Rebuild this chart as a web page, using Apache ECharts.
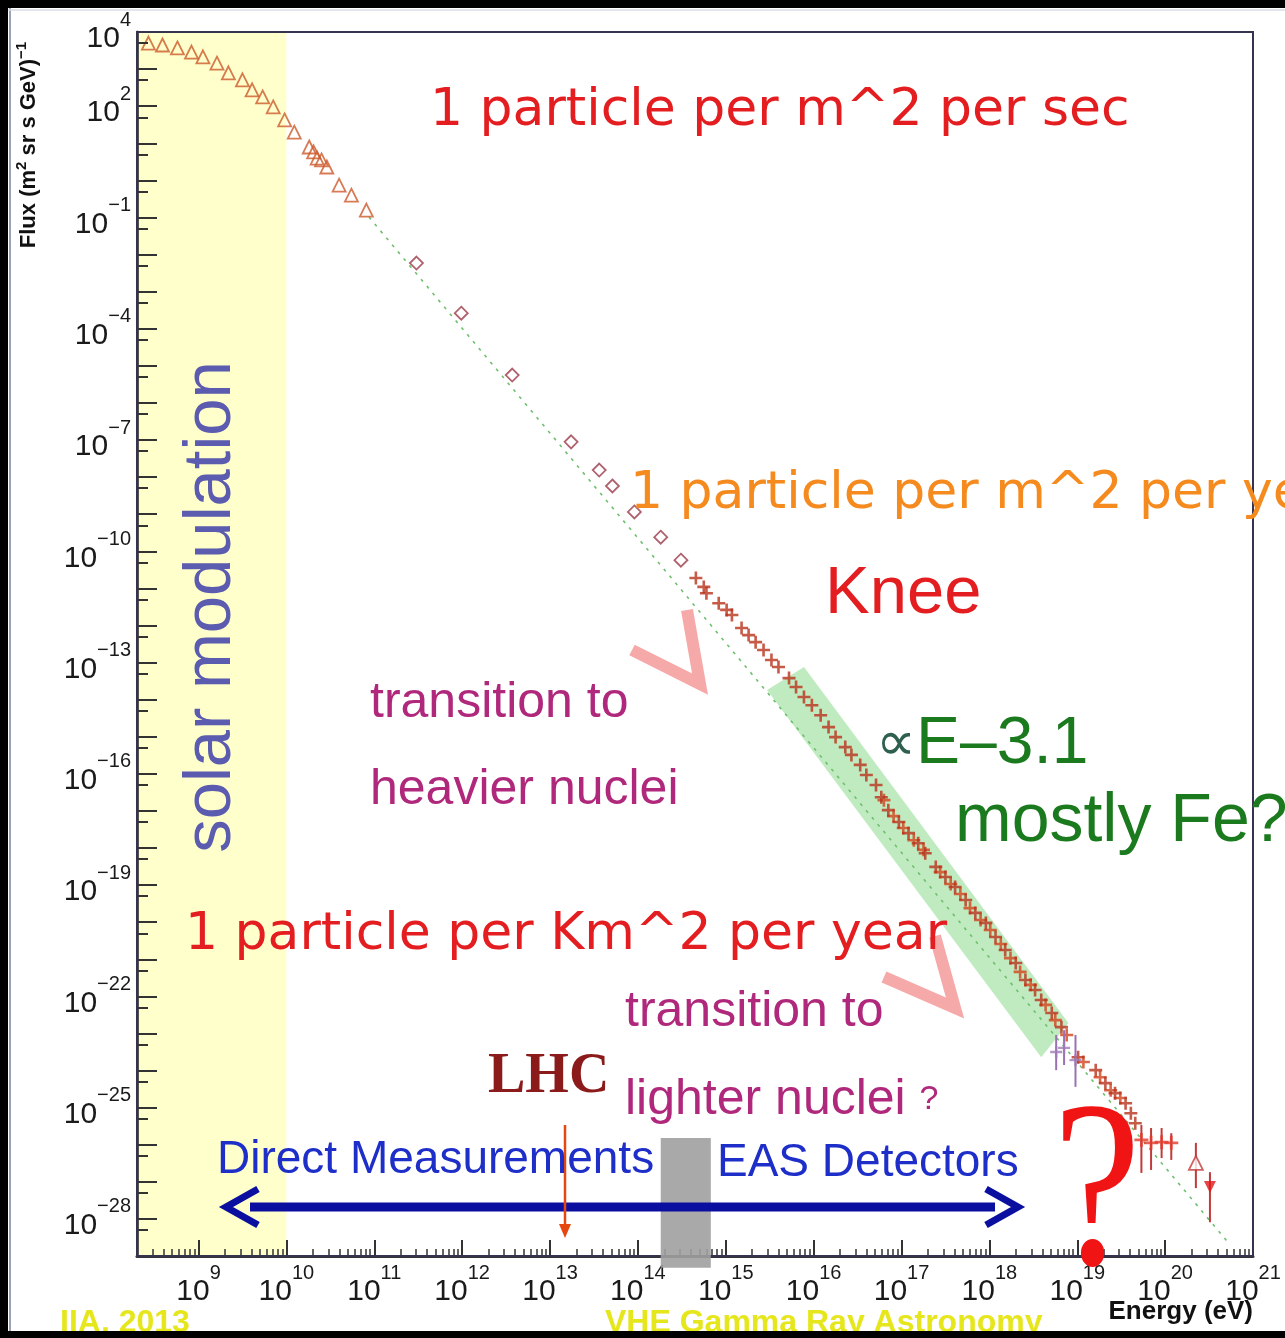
<!DOCTYPE html>
<html><head><meta charset="utf-8">
<script src="https://cdn.jsdelivr.net/npm/echarts@6/dist/echarts.min.js"></script>
<style>html,body{margin:0;padding:0;background:#fff;overflow:hidden}#c{width:1285px;height:1338px}</style>
</head><body><div id="c"></div>
<script>
// ---- axis ticks / labels (log10 exponents) ----
const xLabelExps = [9,10,11,12,13,14,15,16,17,18,19,20,21];
const yLabelExps = [4,2,-1,-4,-7,-10,-13,-16,-19,-22,-25,-28];

// ---- data: [log10(E/eV), log10(flux)] ----
const lowEnergyTriangles = [[8.43,3.70],[8.59,3.65],[8.76,3.57],[8.92,3.46],[9.05,3.33],[9.21,3.16],[9.34,2.90],[9.50,2.71],[9.61,2.44],[9.73,2.25],[9.85,1.98],[9.98,1.63],[10.09,1.30],[10.26,0.90],[10.31,0.77],[10.35,0.60],[10.40,0.55],[10.46,0.36],[10.60,-0.13],[10.74,-0.40],[10.91,-0.80]];
const balloonDiamonds = [[11.48,-2.23],[11.99,-3.58],[12.57,-5.25],[13.24,-7.05],[13.56,-7.81],[13.71,-8.24],[13.96,-8.94],[14.26,-9.62],[14.49,-10.24]];
const easCrosses = [[14.66,-10.72],[14.75,-10.96],[14.78,-11.13],[14.92,-11.40],[15.01,-11.58],[15.07,-11.72],[15.18,-12.07],[15.26,-12.26],[15.34,-12.45],[15.43,-12.66],[15.52,-12.93],[15.60,-13.12],[15.72,-13.42],[15.80,-13.66],[15.89,-13.93],[15.98,-14.15],[16.08,-14.42],[16.17,-14.74],[16.25,-15.01],[16.36,-15.28],[16.43,-15.49],[16.53,-15.76],[16.60,-16.03],[16.71,-16.30],[16.77,-16.63],[16.85,-16.98],[16.97,-17.30],[17.08,-17.60],[17.19,-17.87],[17.27,-18.14],[17.39,-18.51],[17.50,-18.78],[17.61,-19.05],[17.73,-19.40],[17.84,-19.75],[17.96,-20.02],[18.07,-20.40],[18.18,-20.75],[18.30,-21.10],[18.41,-21.56],[18.52,-21.83],[18.59,-22.10],[18.71,-22.45],[18.82,-22.83],[19.01,-23.64],[19.21,-23.99],[19.32,-24.34],[19.43,-24.61],[19.55,-24.88],[19.61,-25.15],[19.66,-25.42]];
const easCrossesB = [[16.80,-16.71],[16.91,-17.14],[17.02,-17.46],[17.14,-17.79],[17.25,-18.05],[17.44,-18.65],[17.56,-18.97],[17.67,-19.24],[17.78,-19.62],[17.90,-19.94],[18.01,-20.21],[18.13,-20.59],[18.24,-20.97],[18.35,-21.34],[18.47,-21.69],[18.64,-22.23],[18.75,-22.64],[18.88,-23.04],[19.07,-23.77],[19.26,-24.18],[19.38,-24.53],[19.49,-24.74]];
// [logE, logFlux, lower, upper]
const purplePoints = [[18.76,-23.50,-23.99,-23.04],[18.85,-23.39,-23.85,-22.91],[18.98,-23.72,-24.44,-23.04]];
const uhecrCrosses = [[19.73,-25.87,-26.76,-25.47],[19.84,-25.95,-26.68,-25.55],[19.96,-25.93,-26.36,-25.55],[20.07,-25.95,-26.41,-25.69]];
const uhecrOpenTriangle = [[20.35,-26.49,-27.17,-25.95]];
const uhecrFilledTriangle = [[20.51,-27.14,-28.09,-26.74]];
const powerLawFit = [[10.94,-0.99],[20.74,-28.70]];
// shaded regions (data coordinates)
const solarModulationBand = [8.3, 10.0];
const kneeBand = [[15.47,-13.74],[15.89,-13.12],[18.90,-22.72],[18.59,-23.64]];
const transitionBox = [14.26, 14.83, -25.82, -29.32];

const FS = 'Liberation Sans, Arial, DejaVu Sans, sans-serif';
const supFmt = v => { const n = Math.round(v); return '{b|10}{s|' + (n < 0 ? '\u2212' + (-n) : n) + '}'; };
const labelRich = {
  b: {fontSize: 30, fontFamily: FS, color: '#1a1a1a', lineHeight: 44, verticalAlign: 'bottom'},
  s: {fontSize: 20, fontFamily: FS, color: '#1a1a1a', lineHeight: 20, verticalAlign: 'top'}
};
const xMinor = [];
for (let n = 8; n <= 20; n++) for (let k = 2; k <= 9; k++) { const v = n + Math.log10(k); if (v > 8.3 && v < 21) xMinor.push(v); }
const yMajor = []; const yMinor = [];
for (let n = -29; n <= 4; n++) { yMajor.push(n); if (n - 0.3 > -29) yMinor.push(n - 0.3); }

const axisCommon = {type: 'value', splitLine: {show: false}, z: 6};
const chart = echarts.init(document.getElementById('c'), null, {renderer: 'canvas'});

const polyItem = (pts, fill) => (params, api) => ({
  type: 'polygon', shape: {points: pts.map(p => api.coord(p))}, style: {fill: fill}
});
const errItem = color => (params, api) => {
  const a = api.coord([api.value(0), api.value(2)]);
  const b = api.coord([api.value(0), api.value(3)]);
  return {type: 'line', shape: {x1: a[0], y1: a[1], x2: b[0], y2: b[1]}, style: {stroke: color, lineWidth: 2}};
};
const plusPath = 'path://M0,4H10V6H0Z M4,0H6V10H4Z';

const option = {
  animation: false,
  backgroundColor: '#ffffff',
  grid: {left: 137, right: 32, top: 32, bottom: 82, show: true, borderColor: '#34344e', borderWidth: 2, backgroundColor: 'rgba(0,0,0,0)', z: 7},
  xAxis: [
    Object.assign({}, axisCommon, {min: 8.3, max: 21, position: 'bottom',
      axisLine: {show: true, onZero: false, lineStyle: {color: '#333', width: 3}},
      axisTick: {show: true, inside: true, length: 16, customValues: xLabelExps, lineStyle: {color: '#333', width: 2}},
      axisLabel: {customValues: xLabelExps, formatter: supFmt, rich: labelRich, margin: 7}}),
    Object.assign({}, axisCommon, {min: 8.3, max: 21, position: 'bottom',
      axisLine: {show: false, onZero: false},
      axisTick: {show: true, inside: true, length: 7, customValues: xMinor, lineStyle: {color: '#333', width: 1.5}},
      axisLabel: {show: false}})
  ],
  yAxis: [
    Object.assign({}, axisCommon, {min: -29, max: 4, position: 'left',
      axisLine: {show: true, onZero: false, lineStyle: {color: '#555', width: 3}},
      axisTick: {show: true, inside: true, length: 20, customValues: yMajor, lineStyle: {color: '#333', width: 2}},
      axisLabel: {customValues: yLabelExps, formatter: supFmt, rich: labelRich, margin: 6}}),
    Object.assign({}, axisCommon, {min: -29, max: 4, position: 'left',
      axisLine: {show: false, onZero: false},
      axisTick: {show: true, inside: true, length: 11, customValues: yMinor, lineStyle: {color: '#333', width: 2}},
      axisLabel: {show: false}})
  ],
  series: [
    {type: 'custom', name: 'solar modulation band', z: 1, silent: true, data: [[solarModulationBand[0], 4]],
     renderItem: (params, api) => {
       const a = api.coord([solarModulationBand[0], 4]), b = api.coord([solarModulationBand[1], -29]);
       return {type: 'rect', shape: {x: a[0], y: a[1], width: b[0] - a[0], height: b[1] - a[1]}, style: {fill: '#FFFFCC'}};
     }},
    {type: 'custom', name: 'knee band', z: 2, silent: true, data: [kneeBand[0]], renderItem: polyItem(kneeBand, 'rgba(150,222,150,0.6)')},
    {type: 'line', name: 'fit', z: 3, data: powerLawFit, symbol: 'none', lineStyle: {color: '#6fbf6f', width: 1.6, type: [3, 6]}},
    {type: 'scatter', name: 'triangles', z: 4, data: lowEnergyTriangles, symbol: 'triangle', symbolSize: 13,
     itemStyle: {color: 'rgba(255,255,255,0)', borderColor: '#cc5a2a', borderWidth: 1.8}},
    {type: 'scatter', name: 'diamonds', z: 4, data: balloonDiamonds, symbol: 'diamond', symbolSize: 13,
     itemStyle: {color: 'rgba(255,255,255,0)', borderColor: '#9b3a4a', borderWidth: 1.8}},
    {type: 'scatter', name: 'crossesB', z: 4, data: easCrossesB, symbol: plusPath, symbolSize: 13,
     itemStyle: {color: '#d2421c'}},
    {type: 'scatter', name: 'crosses', z: 5, data: easCrosses, symbol: plusPath, symbolSize: 13,
     itemStyle: {color: '#b8321a'}},
    {type: 'custom', name: 'purple err', z: 5, data: purplePoints, renderItem: errItem('#9a72b4')},
    {type: 'scatter', name: 'purple', z: 5, data: purplePoints.map(p => [p[0], p[1]]), symbol: plusPath, symbolSize: 12, itemStyle: {color: '#a07ab8'}},
    {type: 'custom', name: 'red err', z: 5, data: uhecrCrosses.concat(uhecrOpenTriangle, uhecrFilledTriangle), renderItem: errItem('#c23a3a')},
    {type: 'scatter', name: 'red crosses', z: 5, data: uhecrCrosses.map(p => [p[0], p[1]]), symbol: plusPath, symbolSize: 14, itemStyle: {color: '#e33a2a'}},
    {type: 'scatter', name: 'open tri', z: 5, data: uhecrOpenTriangle.map(p => [p[0], p[1]]), symbol: 'triangle', symbolSize: 14,
     itemStyle: {color: '#fff', borderColor: '#c23a3a', borderWidth: 1.8}},
    {type: 'scatter', name: 'filled tri', z: 5, data: uhecrFilledTriangle.map(p => [p[0], p[1]]), symbol: 'triangle', symbolRotate: 180, symbolSize: 12,
     itemStyle: {color: '#e01818'}},
    {type: 'custom', name: 'transition box', z: 8, clip: false, silent: true, data: [[transitionBox[0], transitionBox[2]]],
     renderItem: (params, api) => {
       const a = api.coord([transitionBox[0], transitionBox[2]]), b = api.coord([transitionBox[1], transitionBox[3]]);
       return {type: 'rect', shape: {x: a[0], y: a[1], width: b[0] - a[0], height: b[1] - a[1]}, style: {fill: 'rgba(160,160,160,0.9)'}};
     }}
  ],
  graphic: [
    // annotation texts
    {type: 'text', x: 430, y: 111, z: 50, style: {text: '1 particle per m^2 per sec', font: '52px "DejaVu Sans"', fill: '#e41e20', verticalAlign: 'middle'}},
    {type: 'text', x: 630, y: 494, z: 50, style: {text: '1 particle per m^2 per year', font: '52px "DejaVu Sans"', fill: '#f58a1f', verticalAlign: 'middle'}},
    {type: 'text', x: 825, y: 595, z: 50, style: {text: 'Knee', font: '67px "Liberation Sans"', fill: '#e41e20', verticalAlign: 'middle'}},
    {type: 'text', x: 370, y: 703, z: 50, style: {text: 'transition to', font: '50px "Liberation Sans"', fill: '#b0287c', verticalAlign: 'middle'}},
    {type: 'text', x: 370, y: 790, z: 50, style: {text: 'heavier nuclei', font: '50px "Liberation Sans"', fill: '#b0287c', verticalAlign: 'middle'}},
    {type: 'text', x: 876, y: 745, z: 50, style: {text: '{p|\u221d}{e|E\u20133.1}', verticalAlign: 'middle',
      rich: {p: {font: '56px "DejaVu Sans"', fill: '#2f5f4f'}, e: {font: '66px "Liberation Sans"', fill: '#1b7a1e'}}}},
    {type: 'text', x: 955, y: 822, z: 50, style: {text: 'mostly Fe?', font: '68px "Liberation Sans"', fill: '#1b7a1e', verticalAlign: 'middle'}},
    {type: 'text', x: 185, y: 935, z: 50, style: {text: '1 particle per Km^2 per year', font: '52px "DejaVu Sans"', fill: '#e41e20', verticalAlign: 'middle'}},
    {type: 'text', x: 625, y: 1012, z: 50, style: {text: 'transition to', font: '50px "Liberation Sans"', fill: '#b0287c', verticalAlign: 'middle'}},
    {type: 'text', x: 625, y: 1100, z: 50, style: {text: '{a|lighter nuclei }{q|?}', verticalAlign: 'middle',
      rich: {a: {font: '50px "Liberation Sans"', fill: '#b0287c'}, q: {font: '34px "Liberation Sans"', fill: '#b0287c'}}}},
    {type: 'text', x: 488, y: 1078, z: 50, style: {text: 'LHC', font: 'bold 56px "Liberation Serif"', fill: '#8b1a1a', verticalAlign: 'middle'}},
    {type: 'text', x: 217, y: 1160, z: 50, style: {text: 'Direct Measurements', font: '46px "Liberation Sans"', fill: '#1e2ec8', verticalAlign: 'middle'}},
    {type: 'text', x: 717, y: 1163, z: 50, style: {text: 'EAS Detectors', font: '46px "Liberation Sans"', fill: '#1e2ec8', verticalAlign: 'middle'}},
    {type: 'text', x: 212, y: 607, rotation: Math.PI / 2, z: 50, style: {text: 'solar modulation', font: '67px "Liberation Sans"', fill: '#5b5baf', align: 'center', verticalAlign: 'middle'}},
    // blue double arrow
    {type: 'line', z: 40, shape: {x1: 250, y1: 1207, x2: 995, y2: 1207}, style: {stroke: '#0b0fa0', lineWidth: 9}},
    {type: 'polyline', z: 40, shape: {points: [[258, 1189], [226, 1207], [258, 1225]]}, style: {stroke: '#0b0fa0', lineWidth: 7, fill: null}},
    {type: 'polyline', z: 40, shape: {points: [[986, 1189], [1018, 1207], [986, 1225]]}, style: {stroke: '#0b0fa0', lineWidth: 7, fill: null}},
    // LHC arrow
    {type: 'line', z: 41, shape: {x1: 565, y1: 1125, x2: 565, y2: 1232}, style: {stroke: '#e8460f', lineWidth: 2.5}},
    {type: 'polygon', z: 41, shape: {points: [[559, 1224], [571, 1224], [565, 1238]]}, style: {fill: '#e8460f'}},
    // pink chevrons
    {type: 'polyline', z: 39, shape: {points: [[632, 650], [700, 684], [687, 610]]}, style: {stroke: '#f6a9a9', lineWidth: 12, fill: null, lineJoin: 'miter'}},
    {type: 'polyline', z: 39, shape: {points: [[884, 977], [955, 1008], [935, 936]]}, style: {stroke: '#f6a9a9', lineWidth: 12, fill: null, lineJoin: 'miter'}},
    // big question mark
    {type: 'text', x: 1097, y: 1202, scaleY: 1.2, z: 45, style: {text: '?', font: '198px "Liberation Serif"', fill: '#f01414', align: 'center', verticalAlign: 'middle'}},
    // axis titles
    {type: 'text', x: 1253, y: 1312, z: 50, style: {text: 'Energy (eV)', font: 'bold 26px "Liberation Sans"', fill: '#111', align: 'right', verticalAlign: 'middle'}},
    {type: 'text', x: 27, y: 145, rotation: Math.PI / 2, z: 50, style: {text: '{t|Flux (m}{s|2}{t| sr s GeV)}{s|\u22121}', align: 'center', verticalAlign: 'middle',
      rich: {t: {font: 'bold 22px "Liberation Sans"', fill: '#111', lineHeight: 26, verticalAlign: 'bottom'}, s: {font: 'bold 15px "Liberation Sans"', fill: '#111', lineHeight: 14, verticalAlign: 'top'}}}},
    // slide frame
    {type: 'text', x: 60, y: 1323, z: 60, style: {text: 'IIA, 2013', font: 'bold 32px "Liberation Sans"', fill: '#e6e61c', verticalAlign: 'middle'}},
    {type: 'text', x: 605, y: 1323, z: 60, style: {text: 'VHE Gamma Ray Astronomy', font: 'bold 32px "Liberation Sans"', fill: '#e6e61c', verticalAlign: 'middle'}},
    {type: 'rect', z: 70, shape: {x: 0, y: 0, width: 1285, height: 8}, style: {fill: '#000'}},
    {type: 'rect', z: 70, shape: {x: 0, y: 0, width: 8, height: 1338}, style: {fill: '#000'}},
    {type: 'rect', z: 70, shape: {x: 0, y: 1331, width: 1285, height: 7}, style: {fill: '#000'}},
    {type: 'line', z: 70, shape: {x1: 10, y1: 8, x2: 10, y2: 1331}, style: {stroke: '#9aa2b4', lineWidth: 2}},
    {type: 'line', z: 70, shape: {x1: 8, y1: 10, x2: 1285, y2: 10}, style: {stroke: '#d8dce4', lineWidth: 1.5}}
  ]
};
chart.setOption(option);
</script>
</body></html>
